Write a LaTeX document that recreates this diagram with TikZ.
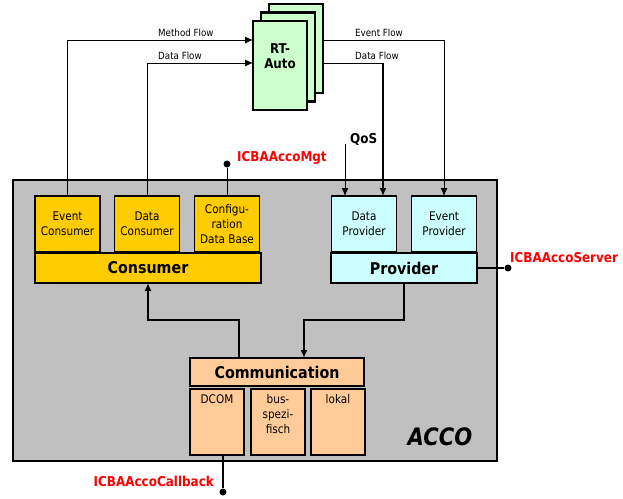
\documentclass[tikz,border=0pt]{standalone}
\usepackage{fontspec}
\setmainfont{DejaVu Sans}[FakeStretch=0.88]
\usetikzlibrary{arrows.meta}
\definecolor{accogray}{HTML}{C0C0C0}
\definecolor{consyellow}{HTML}{FFCC00}
\definecolor{provcyan}{HTML}{CCFFFF}
\definecolor{compeach}{HTML}{FFCC99}
\definecolor{rtgreen}{HTML}{CCFFCC}
\definecolor{ifred}{HTML}{FF0000}
\tikzset{
  box/.style={draw=black, line width=1.6pt, inner sep=0pt, outer sep=0pt, align=center},
  subbox/.style={box, minimum width=65pt, minimum height=56pt, font=\fontsize{11.9}{15}\selectfont},
  bar/.style={box, line width=2pt, minimum height=30pt, font=\fontsize{16.2}{18}\selectfont\bfseries},
  combox/.style={box, minimum width=54pt, minimum height=66pt},
  comtext/.style={anchor=north, inner sep=0pt, align=center, font=\fontsize{11.9}{15}\selectfont},
  rtbox/.style={box, line width=2.2pt, fill=rtgreen, minimum width=54pt, minimum height=89pt},
  flow/.style={line width=0.9pt, -{Latex[length=8pt,width=7pt]}},
  thinline/.style={line width=0.9pt},
  thickline/.style={line width=2pt},
  thickflow/.style={line width=2pt, -{Latex[length=8pt,width=7pt]}},
  flowlabel/.style={anchor=west, inner sep=0pt, font=\fontsize{9.9}{11}\selectfont},
  iflabel/.style={inner sep=0pt, text=ifred, font=\fontsize{13.6}{15}\selectfont\bfseries},
  dot/.style={circle, fill=black, inner sep=0pt, minimum size=7pt},
}
\begin{document}
\begin{tikzpicture}[x=1pt, y=-1pt]
\useasboundingbox (0,0) rectangle (623,498);
% helper coordinates
\coordinate (mfy) at (0,40);
\coordinate (dfy) at (0,63);
\coordinate (midy) at (0,320);

% ACCO frame
\node[box, fill=accogray, minimum width=484pt, minimum height=281pt] (acco) at (255,320.5) {};
\node[inner sep=0pt, font=\fontsize{24}{26}\selectfont\bfseries\itshape] (accolbl) at (440,437) {ACCO};

% RT-Auto stack
\node[rtbox] (rt3) at (296,48.5) {};
\node[rtbox] (rt2) at (288,57) {};
\node[rtbox] (rt1) at (280,65.5) {};
\node[inner sep=0pt, align=center, font=\fontsize{13.5}{15}\selectfont\bfseries] (rttext) at (280,56) {RT-\\Auto};

% Consumer
\node[subbox, fill=consyellow] (ec) at (67.5,224) {Event\\Consumer};
\node[subbox, fill=consyellow] (dc) at (147,224) {Data\\Consumer};
\node[subbox, fill=consyellow] (cfg) at (227,224) {Configu-\\ration\\Data Base};
\node[bar, fill=consyellow, minimum width=226pt] (cb) at (148,268) {Consumer};

% Provider
\node[subbox, fill=provcyan] (dp) at (364,224) {Data\\Provider};
\node[subbox, fill=provcyan] (ep) at (444,224) {Event\\Provider};
\node[bar, fill=provcyan, minimum width=146pt] (pb) at (404,268) {Provider};

% Communication
\node[bar, fill=compeach, line width=1.6pt, minimum width=174pt, minimum height=28pt] (comm) at (277,372) {Communication};
\node[combox, fill=compeach] (dcom) at (217,422) {};
\node[combox, fill=compeach] (bus) at (278,422) {};
\node[combox, fill=compeach] (lokal) at (338,422) {};
\node[comtext] (dcomt) at ([yshift=-5pt]dcom.north) {DCOM};
\node[comtext] (bust) at ([yshift=-5pt]bus.north) {bus-\\spezi-\\fisch};
\node[comtext] (lokalt) at ([yshift=-5pt]lokal.north) {lokal};

% Flows to RT-Auto
\draw[flow] (ec.north) |- (rt1.west |- mfy);
\draw[flow] (dc.north) |- (rt1.west |- dfy);
\node[flowlabel] (mfl) at (158,33) {Method Flow};
\node[flowlabel] (dfl) at (158,56) {Data Flow};

% Flows from RT-Auto
\draw[flow] (rt3.east |- mfy) -| (ep.north);
\coordinate (dpin) at ([xshift=19pt]dp.north);
\draw[thinline] (rt3.east |- dfy) -- (dpin |- dfy);
\draw[thickflow] (dpin |- dfy) -- (dpin);
\node[flowlabel] (efl) at (355,33) {Event Flow};
\node[flowlabel] (dfl2) at (355,56) {Data Flow};

% QoS
\coordinate (qos) at (345,144);
\draw[flow] (qos) -- (qos |- dp.north);
\node[anchor=west, inner sep=0pt, font=\fontsize{13.6}{15}\selectfont\bfseries] (qoslbl) at (350,139) {QoS};

% Internal connections
\draw[thickflow] ([xshift=-38pt]comm.north) |- (cb.south |- midy) -- (cb.south);
\coordinate (commin) at ([xshift=27pt]comm.north);
\draw[thickflow] (pb.south) |- (commin |- midy) -- (commin);

% Interfaces
\node[dot] (mgtdot) at (227,164) {};
\draw[thinline] (mgtdot) -- (cfg.north);
\node[iflabel, anchor=west] (mgtlbl) at (237,158) {ICBAAccoMgt};

\node[dot] (srvdot) at (508,268) {};
\draw[line width=1.5pt] (pb.east) -- (srvdot);
\node[iflabel, anchor=west] (srvlbl) at (510,258) {ICBAAccoServer};

\node[dot] (cbdot) at (223,492) {};
\draw[thickline] (cbdot |- dcom.south) -- (cbdot);
\node[iflabel, anchor=east] (cblbl) at (214,481) {ICBAAccoCallback};
\end{tikzpicture}
\end{document}
